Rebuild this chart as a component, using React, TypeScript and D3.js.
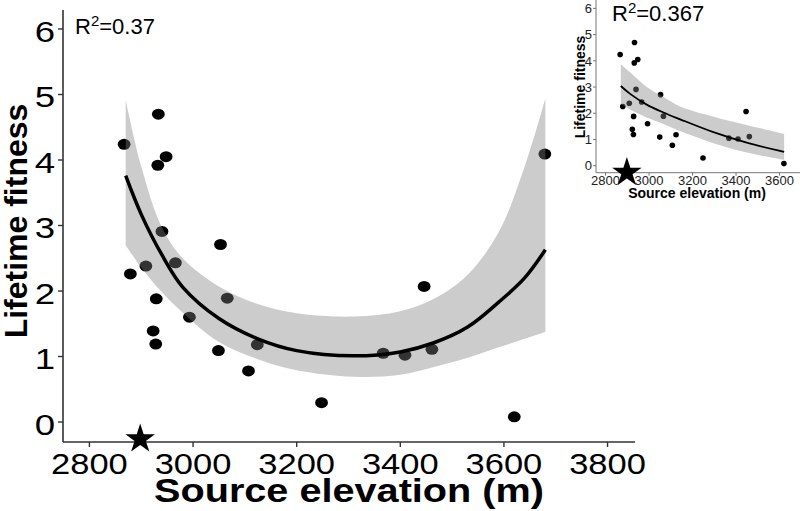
import React from "react";
import * as d3 from "d3";

// ---- data ----
const elevation = [2933, 2867, 2948, 2932, 2940, 3053, 2909, 2966, 2879, 2929, 3066, 2993, 2923, 2928, 3049, 3124, 3107, 3248, 3367, 3446, 3409, 3461, 3620, 3679];
const fitness = [4.70, 4.24, 4.05, 3.92, 2.91, 2.71, 2.38, 2.43, 2.26, 1.88, 1.89, 1.60, 1.39, 1.19, 1.09, 1.18, 0.78, 0.295, 1.05, 2.07, 1.02, 1.11, 0.08, 4.09];
// inset excludes the 3679 m population
const insetCount = 23;

const starElevation = 2898;
const starFitness = -0.26;

// main quadratic fit with confidence band
const fitX = [2870, 2900, 2940, 2980, 3050, 3125, 3200, 3310, 3400, 3465, 3530, 3590, 3640, 3680];
const fitY = [3.76, 3.17, 2.55, 2.06, 1.58, 1.27, 1.09, 1.01, 1.07, 1.21, 1.45, 1.83, 2.20, 2.63];
const fitHi = [4.92, 3.90, 2.97, 2.50, 2.07, 1.80, 1.66, 1.61, 1.69, 1.88, 2.25, 2.90, 3.90, 4.94];
const fitLo = [2.70, 2.36, 1.98, 1.67, 1.22, 0.96, 0.79, 0.69, 0.72, 0.84, 0.98, 1.14, 1.27, 1.38];

// inset fit with confidence band
const insetX = [2870, 2913, 2989, 3066, 3143, 3296, 3449, 3621];
const insetY = [3.04, 2.74, 2.33, 2.03, 1.77, 1.28, 0.88, 0.53];
const insetHi = [3.87, 3.56, 3.00, 2.62, 2.26, 1.87, 1.55, 1.22];
const insetLo = [2.35, 2.14, 1.84, 1.59, 1.32, 0.86, 0.50, 0.22];

const xTicks = [2800, 3000, 3200, 3400, 3600, 3800];
const insetXTicks = [2800, 3000, 3200, 3400, 3600];
const yTicks = [0, 1, 2, 3, 4, 5, 6];

const mainR2 = "0.37";
const insetR2 = "0.367";

const FONT = "'Liberation Sans', Arial, Helvetica, sans-serif";

export default function App() {
  // main scales
  const x = d3.scaleLinear().domain([2749, 3853]).range([63, 635]);
  const y = d3.scaleLinear().domain([-0.305, 6.29]).range([442, 10]);
  // inset scales
  const ix = d3.scaleLinear().domain([2756, 3694]).range([596, 800]);
  const iy = d3.scaleLinear().domain([-0.267, 6.32]).range([172.7, 0]);

  const curve = d3.curveCatmullRom.alpha(0.5);
  const idx = d3.range(fitX.length);
  const line = d3.line<number>().x((i) => x(fitX[i])).y((i) => y(fitY[i])).curve(curve);
  const area = d3.area<number>().x((i) => x(fitX[i])).y0((i) => y(fitLo[i])).y1((i) => y(fitHi[i])).curve(curve);

  const iidx = d3.range(insetX.length);
  const iline = d3.line<number>().x((i) => ix(insetX[i])).y((i) => iy(insetY[i])).curve(curve);
  const iarea = d3.area<number>().x((i) => ix(insetX[i])).y0((i) => iy(insetLo[i])).y1((i) => iy(insetHi[i])).curve(curve);

  const starR = 15.5;
  const star = d3.symbol(d3.symbolStar, (starR * starR) / 0.8908130915292852)();

  const pts = d3.range(elevation.length);
  const ipts = d3.range(insetCount);

  return (
    <svg width={800} height={511} style={{ position: "absolute", left: 0, top: 0, background: "#fff" }} fontFamily={FONT}>
      <rect x={0} y={0} width={800} height={511} fill="#fff" />
      {/* ---------- main plot ---------- */}
      <g>
        {pts.map((i) => (
          <ellipse key={i} cx={x(elevation[i])} cy={y(fitness[i])} rx={6.4} ry={5.5} fill="#000" />
        ))}
        <path d={area(idx) || ""} fill="#808080" fillOpacity={0.4} />
        <path d={line(idx) || ""} fill="none" stroke="#000" strokeWidth={3.5} />

        {/* axes */}
        <line x1={63} x2={63} y1={y.range()[1]} y2={y.range()[0]} stroke="#333" strokeWidth={1.6} />
        <line x1={x.range()[0]} x2={x.range()[1]} y1={442} y2={442} stroke="#333" strokeWidth={1.6} />
        {yTicks.map((t) => (
          <g key={t}>
            <line x1={58} x2={63} y1={y(t)} y2={y(t)} stroke="#333" strokeWidth={1.4} />
            <text transform={`translate(55,${y(t)}) scale(1.22,1)`} textAnchor="end" dy="0.42em" fontSize={30} fill="#000">
              {t}
            </text>
          </g>
        ))}
        {xTicks.map((t) => (
          <g key={t}>
            <line x1={x(t)} x2={x(t)} y1={442} y2={447} stroke="#333" strokeWidth={1.4} />
            <text transform={`translate(${x(t)},473.5) scale(1.15,1)`} textAnchor="middle" fontSize={30} fill="#000">
              {t}
            </text>
          </g>
        ))}
        <path d={star || ""} transform={`translate(${x(starElevation)},${y(starFitness)})`} fill="#000" />

        <text x={349} y={502} textAnchor="middle" fontSize={33} fontWeight="bold" textLength={390} lengthAdjust="spacingAndGlyphs" fill="#000">
          Source elevation (m)
        </text>
        <text transform={`translate(27,221) rotate(-90)`} textAnchor="middle" fontSize={32} fontWeight="bold" fill="#000">
          Lifetime fitness
        </text>
        <text x={75} y={34} fontSize={22} fill="#000">
          R<tspan fontSize={15} dy={-8}>2</tspan>
          <tspan dy={8}>={mainR2}</tspan>
        </text>
      </g>

      {/* ---------- inset ---------- */}
      <g>
        {ipts.map((i) => (
          <circle key={i} cx={ix(elevation[i])} cy={iy(fitness[i])} r={2.8} fill="#000" />
        ))}
        <path d={iarea(iidx) || ""} fill="#808080" fillOpacity={0.4} />
        <path d={iline(iidx) || ""} fill="none" stroke="#000" strokeWidth={1.8} />

        <line x1={596} x2={596} y1={iy.range()[1]} y2={iy.range()[0]} stroke="#777" strokeWidth={1} />
        <line x1={ix.range()[0]} x2={ix.range()[1]} y1={172.7} y2={172.7} stroke="#777" strokeWidth={1} />
        {yTicks.map((t) => (
          <g key={t}>
            <line x1={593} x2={596} y1={iy(t)} y2={iy(t)} stroke="#777" strokeWidth={1} />
            <text x={592} y={iy(t)} textAnchor="end" dy="0.36em" fontSize={13} fill="#222">
              {t}
            </text>
          </g>
        ))}
        {insetXTicks.map((t) => (
          <g key={t}>
            <line x1={ix(t)} x2={ix(t)} y1={172.7} y2={175.7} stroke="#777" strokeWidth={1} />
            <text x={ix(t)} y={185} textAnchor="middle" fontSize={13} fill="#222">
              {t}
            </text>
          </g>
        ))}
        <path d={star || ""} transform={`translate(${ix(starElevation)},${iy(starFitness)})`} fill="#000" />
        <text x={697} y={198} textAnchor="middle" fontSize={14} fontWeight="bold" fill="#000">
          Source elevation (m)
        </text>
        <text transform={`translate(585,87) rotate(-90)`} textAnchor="middle" fontSize={14} fontWeight="bold" fill="#000">
          Lifetime fitness
        </text>
        <text x={612} y={21} fontSize={22} fill="#000">
          R<tspan fontSize={15} dy={-8}>2</tspan>
          <tspan dy={8}>={insetR2}</tspan>
        </text>
      </g>
    </svg>
  );
}
